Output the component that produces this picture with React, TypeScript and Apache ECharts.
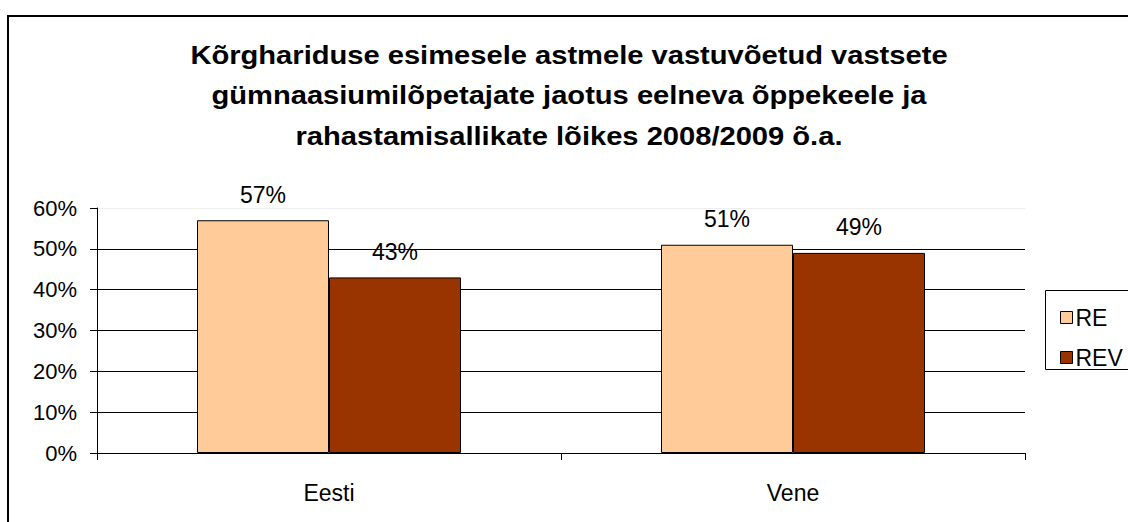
import React, { useEffect, useRef } from "react";
import * as echarts from "echarts";

const categories = ["Eesti", "Vene"];
const seriesNames = ["RE", "REV"];
const reValues = [57, 51];
const revValues = [43, 49];
const yTicks = [0, 10, 20, 30, 40, 50, 60];
const titleLines = [
  "Kõrghariduse esimesele astmele vastuvõetud vastsete",
  "gümnaasiumilõpetajate jaotus eelneva õppekeele ja",
  "rahastamisallikate lõikes 2008/2009 õ.a.",
];
const colors = ["#FFCC99", "#993300"];

const FONT = "'Liberation Sans', Arial, sans-serif";

export default function App() {
  const ref = useRef<HTMLDivElement>(null);
  useEffect(() => {
    if (!ref.current) return;
    const chart = echarts.init(ref.current, null, { renderer: "svg" });
    const mkSeries = (name: string, data: number[], color: string) => ({
      name,
      type: "bar",
      data,
      barWidth: "28.45%",
      barGap: "0%",
      itemStyle: { color, borderColor: "#000", borderWidth: 1 },
      label: {
        show: true,
        position: "top",
        distance: 14,
        formatter: "{c}%",
        color: "#000",
        fontSize: 23,
        fontFamily: FONT,
      },
    });
    chart.setOption({
      animation: false,
      backgroundColor: "#fff",
      textStyle: { fontFamily: FONT },
      grid: { left: 97, right: 103, top: 208, bottom: 69 },
      graphic: [
        {
          type: "rect",
          shape: { x: 8, y: 16, width: 1300, height: 700 },
          style: { fill: "none", stroke: "#000", lineWidth: 2 },
          silent: true,
        },
        {
          type: "text",
          x: 569,
          y: 35,
          scaleX: 1.165,
          style: {
            text: titleLines.join("\n"),
            align: "center",
            verticalAlign: "top",
            fontSize: 25,
            fontWeight: "bold",
            lineHeight: 40.5,
            fontFamily: FONT,
            fill: "#000",
          },
        },
        {
          type: "rect",
          shape: { x: 1045.5, y: 290.5, width: 200, height: 79 },
          style: { fill: "#fff", stroke: "#000", lineWidth: 1 },
          z: -1,
          silent: true,
        },
      ],
      legend: {
        orient: "vertical",
        left: 1055,
        top: 301,
        itemWidth: 12,
        itemHeight: 12,
        itemGap: 17,
        icon: "rect",
        data: seriesNames,
        textStyle: { fontSize: 23, color: "#000", fontFamily: FONT, padding: [0, 0, 0, -2] },
        itemStyle: { borderColor: "#000", borderWidth: 1 },
      },
      xAxis: {
        type: "category",
        data: categories,
        axisLine: { lineStyle: { color: "#000", width: 1 } },
        axisTick: { show: true, length: 7, lineStyle: { color: "#000" } },
        axisLabel: { fontSize: 23, color: "#000", margin: 28, fontFamily: FONT },
      },
      yAxis: {
        type: "value",
        min: yTicks[0],
        max: yTicks[yTicks.length - 1],
        interval: 10,
        axisLine: { show: true, lineStyle: { color: "#000", width: 1 } },
        axisTick: { show: true, length: 7, lineStyle: { color: "#000" } },
        axisLabel: { fontSize: 22, color: "#000", margin: 20, formatter: "{value}%", fontFamily: FONT },
        splitLine: {
          show: true,
          lineStyle: { color: ["#000", "#000", "#000", "#000", "#000", "#000", "#eeeeee"], width: 1 },
        },
      },
      series: [
        mkSeries(seriesNames[0], reValues, colors[0]),
        mkSeries(seriesNames[1], revValues, colors[1]),
      ],
    });
    return () => chart.dispose();
  }, []);
  return (
    <div
      ref={ref}
      style={{ position: "fixed", left: 0, top: 0, width: 1128, height: 522 }}
    />
  );
}
